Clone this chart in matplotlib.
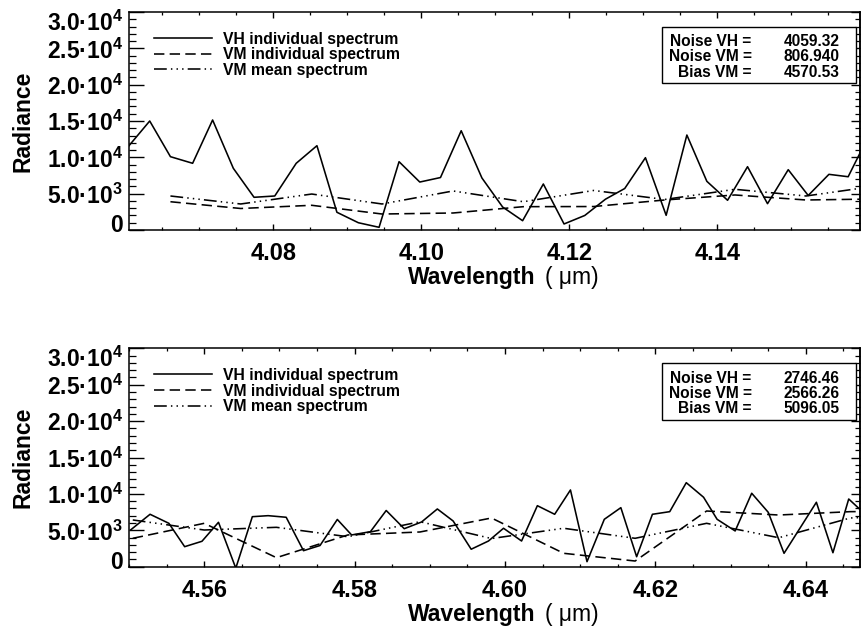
import matplotlib
matplotlib.use('Agg')
import matplotlib.pyplot as plt
import matplotlib.transforms as mtransforms
from matplotlib.patches import Rectangle
from matplotlib.lines import Line2D
from matplotlib.ticker import MultipleLocator

plt.rcParams['font.family'] = ['Liberation Sans', 'DejaVu Sans']
plt.rcParams['mathtext.fontset'] = 'custom'
plt.rcParams['mathtext.rm'] = 'Liberation Sans'
plt.rcParams['mathtext.bf'] = 'Liberation Sans:bold'
plt.rcParams['mathtext.it'] = 'Liberation Sans:italic'

# ---------------- data: upper panel (4.06 - 4.16 um) ----------------
wl_vh_top = [4.0605, 4.0633, 4.0661, 4.0691, 4.0718, 4.0746, 4.0774, 4.0802, 4.0831,
             4.0859, 4.0886, 4.0915, 4.0943, 4.0970, 4.0998, 4.1026, 4.1054, 4.1082,
             4.1110, 4.1137, 4.1165, 4.1193, 4.1221, 4.1249, 4.1275, 4.1303, 4.1331,
             4.1359, 4.1386, 4.1414, 4.1441, 4.1468, 4.1496, 4.1523, 4.1551, 4.1577,
             4.1605]
rad_vh_top = [11600, 15000, 10090, 9180, 15140, 8490, 4500, 4680, 9180,
              11600, 2440, 1000, 370, 9400, 6600, 7220, 13660, 7160,
              3160, 1280, 6330, 830, 2000, 4240, 5710, 9950, 2020,
              13070, 6700, 4090, 8710, 3620, 8300, 4750, 7660, 7330,
              13030]
wl_vm_top = [4.0661, 4.0756, 4.0852, 4.0947, 4.1043, 4.1138, 4.1233, 4.1329,
             4.1424, 4.1520, 4.1615]
rad_vm_top = [3890, 2960, 3400, 2200, 2340, 3210, 3230, 4130, 4820, 4130, 4270]
mean_vm_top = [4680, 3580, 4950, 3580, 5370, 3890, 5440, 4200, 5600, 4680, 6050]
stats_top = [4059.32, 806.940, 4570.53]

# ---------------- data: lower panel (4.55 - 4.65 um) ----------------
wl_vh_bot = [4.5502, 4.5528, 4.5553, 4.5574, 4.5597, 4.5619, 4.5642, 4.5664, 4.5685,
             4.5709, 4.5732, 4.5754, 4.5777, 4.5796, 4.5821, 4.5842, 4.5866, 4.5889,
             4.5910, 4.5931, 4.5955, 4.5978, 4.5998, 4.6022, 4.6043, 4.6066, 4.6087,
             4.6109, 4.6132, 4.6154, 4.6175, 4.6196, 4.6219, 4.6241, 4.6264, 4.6282,
             4.6306, 4.6328, 4.6350, 4.6371, 4.6414, 4.6436, 4.6457, 4.6480]
rad_vh_bot = [5040, 7200, 5960, 2750, 3490, 6100, -200, 6870, 7010,
              6790, 2200, 2910, 6490, 4360, 4810, 7720, 5220, 6140,
              7930, 6280, 2400, 3530, 5280, 3530, 8380, 7200, 10540,
              690, 6510, 8110, 1370, 7200, 7560, 11540, 9540, 6510,
              4910, 10090, 7470, 1840, 8850, 1920, 9300, 7100]
wl_vm_bot = [4.5505, 4.5600, 4.5696, 4.5791, 4.5887, 4.5982, 4.6078, 4.6173,
             4.6268, 4.6364, 4.6459, 4.6555]
rad_vm_bot = [3900, 5960, 1240, 4360, 4770, 6690, 1840, 780, 7650, 7100, 7560, 7650]
mean_vm_bot = [6420, 5040, 5410, 4120, 6180, 3870, 5280, 3900, 5960, 3980, 6690, 7100]
stats_bot = [2746.46, 2566.26, 5096.05]

series_labels = ['VH individual spectrum', 'VM individual spectrum', 'VM mean spectrum']
stat_labels = ['Noise VH =', 'Noise VM =', 'Bias VM =']
yticks = [0, 5000, 10000, 15000, 20000, 25000, 30000]
ytick_labels = ['0', '5.0·10$^{\\mathbf{3}}$', '1.0·10$^{\\mathbf{4}}$', '1.5·10$^{\\mathbf{4}}$',
                '2.0·10$^{\\mathbf{4}}$', '2.5·10$^{\\mathbf{4}}$', '3.0·10$^{\\mathbf{4}}$']
xlim_top = (4.0605, 4.1593)
xlim_bot = (4.5500, 4.6472)
xticks_top = [4.08, 4.10, 4.12, 4.14]
xticks_bot = [4.56, 4.58, 4.60, 4.62, 4.64]

# ---------------- figure ----------------
W, H = 861, 630
fig = plt.figure(figsize=(W / 100, H / 100), dpi=100)


def axrect(l, t, r, b):
    return [l / W, 1 - b / H, (r - l) / W, (b - t) / H]


ax1 = fig.add_axes(axrect(129, 12, 860, 230))
ax2 = fig.add_axes(axrect(129, 348.3, 860, 566.7))

LW = 1.15
ls_dash = (0, (6.5, 3.3))
ls_dd = (0, (8.0, 2.6, 0.9, 2.6, 0.9, 2.6, 0.9, 2.6))
BOLD = 16.5


def draw_panel(ax, wl_vh, rad_vh, wl_vm, rad_vm, mean_vm, stats, xlim, xticks):
    ax.plot(wl_vh, rad_vh, color='black', lw=LW, ls='-')
    ax.plot(wl_vm, rad_vm, color='black', lw=LW, ls=ls_dash)
    ax.plot(wl_vm, mean_vm, color='black', lw=LW, ls=ls_dd)
    ax.set_xlim(*xlim)
    ax.set_ylim(0, 30000)
    for sp in ax.spines.values():
        sp.set_linewidth(1.1)

    ax.set_xticks(xticks)
    ax.set_xticklabels(['%.2f' % v for v in xticks], fontsize=17, fontweight='bold')
    ax.xaxis.set_minor_locator(MultipleLocator(0.005))
    ax.set_yticks(yticks)
    ax.set_yticklabels(ytick_labels, fontsize=BOLD, fontweight='bold')
    ax.yaxis.set_minor_locator(MultipleLocator(1000))
    ax.tick_params(axis='x', which='major', direction='in', top=True, bottom=True,
                   length=4.3, width=1.0, pad=8.5)
    ax.tick_params(axis='x', which='minor', direction='in', top=True, bottom=True,
                   length=2.2, width=0.9)
    ax.tick_params(axis='y', which='major', direction='in', left=True, right=False,
                   length=10.5, width=1.0, pad=4.5)
    ax.tick_params(axis='y', which='minor', direction='in', left=True, right=False,
                   length=5.3, width=0.9)
    # right-hand ticks (shorter)
    sec = ax.secondary_yaxis('right')
    sec.set_yticks(yticks)
    sec.yaxis.set_minor_locator(MultipleLocator(1000))
    sec.tick_params(axis='y', which='major', direction='in', length=6.5, width=1.0,
                    labelright=False)
    sec.tick_params(axis='y', which='minor', direction='in', length=3.6, width=0.9)
    sec.spines['right'].set_linewidth(1.1)

    # shift the extreme y labels inward
    labs = ax.get_yticklabels()
    up = mtransforms.ScaledTranslation(0, 6.5 / 100, fig.dpi_scale_trans)
    dn = mtransforms.ScaledTranslation(0, -8.5 / 100, fig.dpi_scale_trans)
    labs[0].set_transform(labs[0].get_transform() + up)
    labs[-1].set_transform(labs[-1].get_transform() + dn)

    ax.set_ylabel('Radiance', fontsize=BOLD, fontweight='bold')
    ax.yaxis.set_label_coords(-0.129, 0.5)
    ax.set_xlabel('Wavelength', fontsize=BOLD, fontweight='bold')
    ax.xaxis.set_label_coords(0.4692, -0.165)
    ax.annotate('( μm)', xy=(1, 0), xycoords=ax.xaxis.label, xytext=(6.5, 0),
                textcoords='offset points', ha='left', va='bottom', fontsize=BOLD)

    handles = [Line2D([], [], color='black', lw=LW, ls='-'),
               Line2D([], [], color='black', lw=LW, ls=ls_dash),
               Line2D([], [], color='black', lw=LW, ls=ls_dd)]
    ax.legend(handles, series_labels, loc='upper left', bbox_to_anchor=(0.034, 0.91),
              frameon=False, borderpad=0, borderaxespad=0, handlelength=3.7,
              handletextpad=0.7, labelspacing=0.04,
              prop={'weight': 'bold', 'size': 11.3})

    box = Rectangle((0.7296, 0.6729), 0.9941 - 0.7296, 0.9326 - 0.6729,
                    transform=ax.transAxes, facecolor='white', edgecolor='black',
                    lw=1.0, zorder=5)
    ax.add_patch(box)
    rows_y = [0.864, 0.795, 0.724]
    for lab, val, yy in zip(stat_labels, stats, rows_y):
        ax.text(0.8518, yy, lab, transform=ax.transAxes, ha='right', va='center',
                fontsize=11.2, fontweight='bold', zorder=6)
        ax.text(0.9717, yy, f'{val:#.6g}', transform=ax.transAxes, ha='right',
                va='center', fontsize=11.2, fontweight='bold', zorder=6)


draw_panel(ax1, wl_vh_top, rad_vh_top, wl_vm_top, rad_vm_top, mean_vm_top,
           stats_top, xlim_top, xticks_top)
draw_panel(ax2, wl_vh_bot, rad_vh_bot, wl_vm_bot, rad_vm_bot, mean_vm_bot,
           stats_bot, xlim_bot, xticks_bot)

fig.savefig('out.png', dpi=100)
